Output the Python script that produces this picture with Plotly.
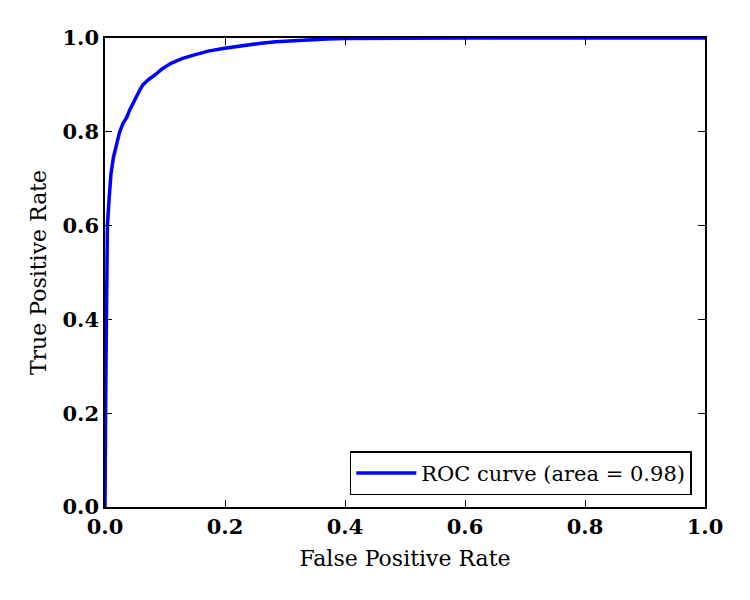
import plotly.graph_objects as go

fpr = [0.0, 0.0, 0.001, 0.002, 0.003, 0.004, 0.007, 0.010, 0.014, 0.019, 0.024, 0.030,
       0.036, 0.041, 0.047, 0.052, 0.058, 0.063, 0.072, 0.083, 0.095, 0.110, 0.128,
       0.149, 0.172, 0.199, 0.228, 0.260, 0.285, 0.310, 0.340, 0.370, 0.400, 0.500,
       0.600, 0.800, 1.0]
tpr = [0.0, 0.05, 0.20, 0.35, 0.50, 0.60, 0.66, 0.711, 0.745, 0.775, 0.798, 0.818,
       0.830, 0.846, 0.862, 0.875, 0.889, 0.900, 0.911, 0.921, 0.934, 0.946, 0.956,
       0.964, 0.972, 0.978, 0.984, 0.989, 0.992, 0.994, 0.996, 0.998, 0.999, 1.0,
       1.0, 1.0, 1.0]
legend_label = "ROC curve (area = 0.98)"
tick_vals = [0.0, 0.2, 0.4, 0.6, 0.8, 1.0]
tick_text = ["0.0", "0.2", "0.4", "0.6", "0.8", "1.0"]

fig = go.Figure()
fig.add_trace(go.Scatter(x=fpr, y=tpr, mode="lines", name=legend_label,
                         line=dict(color="#0000ff", width=3.5)))

axis_common = dict(
    range=[0, 1], tickvals=tick_vals, ticktext=tick_text,
    ticks="inside", ticklen=7, tickwidth=1, tickcolor="black",
    showline=True, linecolor="black", linewidth=1.5, mirror="allticks",
    showgrid=False, zeroline=False,
    tickfont=dict(family="DejaVu Serif", size=21, color="black", weight="bold"),
)
fig.update_xaxes(**axis_common, title=dict(text="False Positive Rate",
                 font=dict(family="DejaVu Serif", size=22, color="black"), standoff=13))
fig.update_yaxes(**axis_common, title=dict(text="True Positive Rate",
                 font=dict(family="DejaVu Serif", size=22, color="black"), standoff=10))

fig.update_layout(
    width=750, height=600,
    margin=dict(l=105, r=45, t=38, b=93),
    paper_bgcolor="white", plot_bgcolor="white",
    showlegend=True,
    legend=dict(x=0.978, y=0.025, xanchor="right", yanchor="bottom",
                bordercolor="black", borderwidth=1.5, bgcolor="white",
                itemwidth=60,
                font=dict(family="DejaVu Serif", size=21, color="black")),
)
fig.write_html("out.html")
